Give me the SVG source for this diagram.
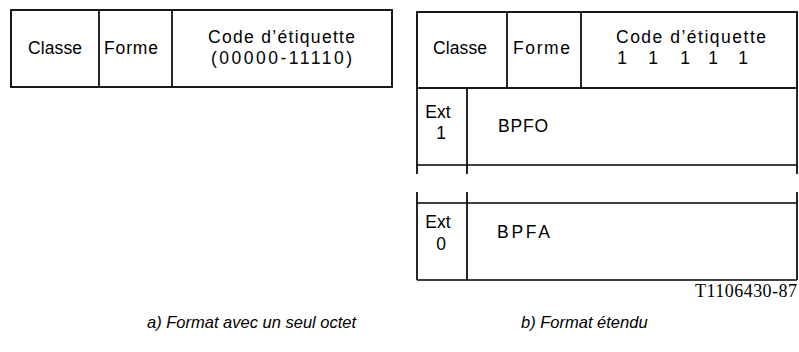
<svg xmlns="http://www.w3.org/2000/svg" width="799" height="352" viewBox="0 0 799 352">
<style>
.ln{stroke:#000;stroke-width:1.7;fill:none}
.bx{stroke:#000;stroke-width:1.8;fill:#fff}
.t{font-family:"Liberation Sans",Arial,sans-serif;font-size:17.5px;fill:#000}
.c{text-anchor:middle}
.s{font-family:"Liberation Serif","Times New Roman",serif;font-size:18px;fill:#000}
.i{font-family:"Liberation Sans",Arial,sans-serif;font-size:16.5px;font-style:italic;fill:#000}
</style>
<g id="format-a">
<rect class="bx" x="11" y="10" width="381" height="77"/>
<line class="ln" x1="99" y1="10" x2="99" y2="87"/>
<line class="ln" x1="172" y1="10" x2="172" y2="87"/>
<text class="t" x="28" y="54" textLength="54" lengthAdjust="spacing">Classe</text>
<text class="t" x="104" y="54" textLength="54" lengthAdjust="spacing">Forme</text>
<text class="t" x="208" y="43" textLength="147" lengthAdjust="spacing">Code d’étiquette</text>
<text class="t" x="211" y="64" textLength="141" lengthAdjust="spacing">(00000-11110)</text>
</g>
<g id="format-b">
<rect class="bx" x="417" y="12" width="380" height="76"/>
<line class="ln" x1="507" y1="12" x2="507" y2="88"/>
<line class="ln" x1="581" y1="12" x2="581" y2="88"/>
<text class="t" x="433" y="54" textLength="54" lengthAdjust="spacing">Classe</text>
<text class="t" x="513" y="54" textLength="57" lengthAdjust="spacing">Forme</text>
<text class="t" x="616" y="43" textLength="150" lengthAdjust="spacing">Code d’étiquette</text>
<text class="t c" x="622" y="64">1</text>
<text class="t c" x="653" y="64">1</text>
<text class="t c" x="685" y="64">1</text>
<text class="t c" x="713" y="64">1</text>
<text class="t c" x="743" y="64">1</text>
</g>
<g id="octet-bpfo">
<line class="ln" x1="417" y1="88" x2="417" y2="174"/>
<line class="ln" x1="467" y1="88" x2="467" y2="174"/>
<line class="ln" x1="797" y1="88" x2="797" y2="174"/>
<line class="ln" x1="417" y1="165" x2="797" y2="165"/>
<text class="t c" x="438" y="118">Ext</text>
<text class="t c" x="441" y="139">1</text>
<text class="t" x="498" y="132" textLength="50" lengthAdjust="spacing">BPFO</text>
</g>
<g id="octet-bpfa">
<line class="ln" x1="417" y1="192" x2="417" y2="280"/>
<line class="ln" x1="467" y1="192" x2="467" y2="280"/>
<line class="ln" x1="797" y1="192" x2="797" y2="280"/>
<line class="ln" x1="417" y1="203" x2="797" y2="203"/>
<line class="ln" x1="417" y1="280" x2="797" y2="280"/>
<text class="t c" x="438" y="228">Ext</text>
<text class="t c" x="441" y="250">0</text>
<text class="t" x="497" y="238" textLength="53" lengthAdjust="spacing">BPFA</text>
</g>
<g id="labels">
<text class="s" x="797" y="297" text-anchor="end" textLength="102" lengthAdjust="spacing">T1106430-87</text>
<text class="i" x="147" y="328">a) Format avec un seul octet</text>
<text class="i" x="521" y="328">b) Format étendu</text>
</g>
</svg>
